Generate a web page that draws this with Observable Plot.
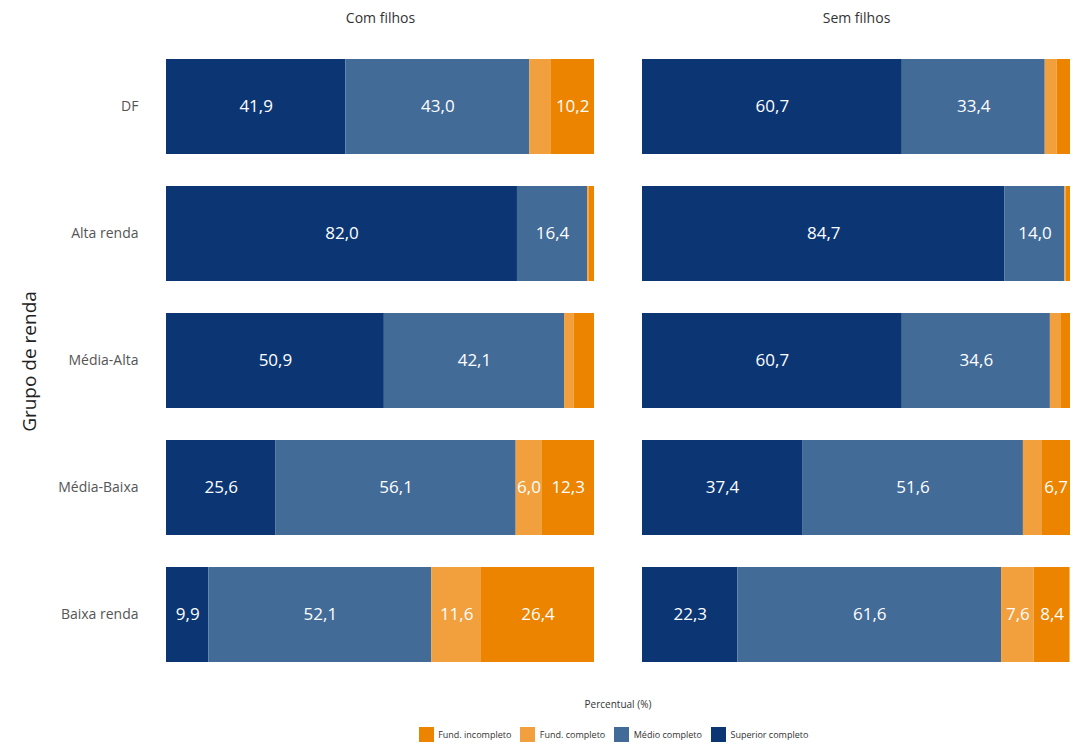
<!DOCTYPE html>
<html><head><meta charset="utf-8">
<script src="https://cdn.jsdelivr.net/npm/d3@7"></script>
<script src="https://cdn.jsdelivr.net/npm/@observablehq/plot@0.6"></script>
<style>
body{margin:0;background:#fff;font-family:"Open Sans",sans-serif;overflow:hidden;}
#wrap{width:1089px;}
#xlabel{margin-left:166px;width:904px;text-align:center;font-size:10px;color:#333;margin-top:17px;line-height:14px;}
#legend{margin-left:166px;width:904px;display:flex;justify-content:center;margin-top:16px;}
#legend > div{margin:0 !important;min-height:0 !important;}
</style></head>
<body><div id="wrap"><div id="chart"></div><div id="xlabel">Percentual (%)</div><div id="legend"></div></div>
<script>
const grupos = ["DF", "Alta renda", "Média-Alta", "Média-Baixa", "Baixa renda"];
const facetas = ["Com filhos", "Sem filhos"];
const niveis = ["Fund. incompleto", "Fund. completo", "Médio completo", "Superior completo"];
const ordemPilha = ["Superior completo", "Médio completo", "Fund. completo", "Fund. incompleto"];
const cores = ["#ec8400", "#f2a03e", "#436b98", "#0b3673"];

// Com filhos
const comSuperior = [41.9, 82.0, 50.9, 25.6, 9.9];
const comMedio    = [43.0, 16.4, 42.1, 56.1, 52.1];
const comFundComp = [4.9, 0.3, 2.3, 6.0, 11.6];
const comFundInc  = [10.2, 1.3, 4.7, 12.3, 26.4];
// Sem filhos
const semSuperior = [60.7, 84.7, 60.7, 37.4, 22.3];
const semMedio    = [33.4, 14.0, 34.6, 51.6, 61.6];
const semFundComp = [2.8, 0.3, 2.6, 4.3, 7.6];
const semFundInc  = [3.1, 1.0, 2.1, 6.7, 8.4];

const series = {
  "Com filhos": {"Superior completo": comSuperior, "Médio completo": comMedio, "Fund. completo": comFundComp, "Fund. incompleto": comFundInc},
  "Sem filhos": {"Superior completo": semSuperior, "Médio completo": semMedio, "Fund. completo": semFundComp, "Fund. incompleto": semFundInc}
};
const data = [];
for (const f of facetas) for (const n of ordemPilha) grupos.forEach((g, i) => data.push({faceta: f, nivel: n, grupo: g, valor: series[f][n][i]}));

const fmt = v => v.toFixed(1).replace(".", ",");
const font = `"Open Sans", sans-serif`;

const chart = Plot.plot({
  width: 1089, height: 680,
  marginLeft: 166, marginRight: 19, marginTop: 58, marginBottom: 16,
  style: {fontFamily: font, background: "#fff"},
  fx: {domain: facetas, paddingInner: 0.101, paddingOuter: 0, label: null},
  y: {domain: grupos, paddingInner: 0.25, paddingOuter: 0, label: "Grupo de renda"},
  x: {domain: [0, 100], axis: null},
  color: {domain: niveis, range: cores},
  marks: [
    Plot.barX(data, Plot.stackX({x: "valor", y: "grupo", fx: "faceta", fill: "nivel", z: "nivel", order: ordemPilha})),
    Plot.text(data, Plot.stackX({x: "valor", y: "grupo", fx: "faceta", z: "nivel", order: ordemPilha,
      text: d => d.valor >= 5 ? fmt(d.valor) : "", fill: "white", fontSize: 17})),
    Plot.axisFx({anchor: "top", tickSize: 0, tickPadding: 36, fontSize: 14, fill: "#333", label: null}),
    Plot.axisY({tickSize: 0, tickPadding: 28, fontSize: 14, fill: "#555", label: "Grupo de renda", labelAnchor: "center", labelOffset: 144})
  ]
});
chart.querySelectorAll('g[aria-label="y-axis label"] text').forEach(t => { t.style.fontSize = "19px"; t.setAttribute("fill", "#222"); });
document.getElementById("chart").append(chart);

const leg = chart.legend("color", {swatchSize: 15, style: {fontFamily: font, fontSize: "9px", color: "#333"}});
document.getElementById("legend").append(leg);
</script></body></html>
